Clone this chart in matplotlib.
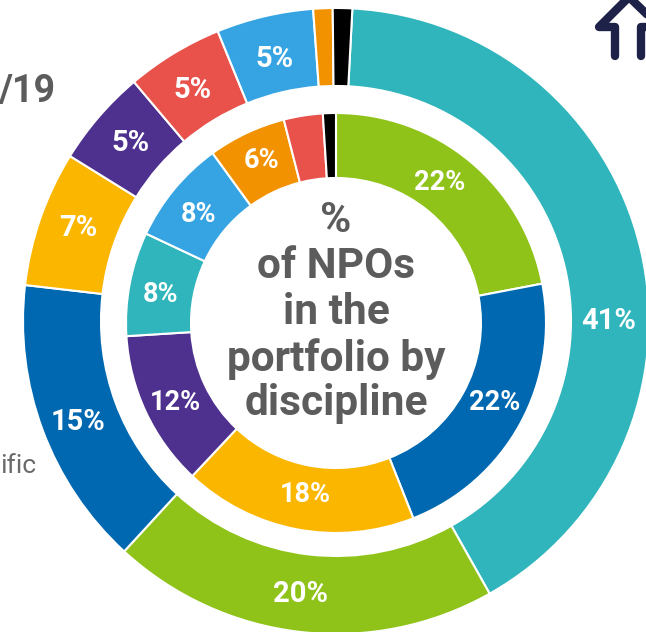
import matplotlib
matplotlib.use("Agg")
import matplotlib.pyplot as plt

outer_values = [41, 20, 15, 7, 5, 5, 5, 1, 1]
outer_colors = ["#2fb5bb", "#8fc31a", "#0068b0", "#fbb600", "#4e318e", "#e8524a", "#36a4e3", "#f39200", "#000000"]
outer_labels = ["41%", "20%", "15%", "7%", "5%", "5%", "5%"]
outer_pos = [(609, 321), (300, 594), (78, 422), (78, 228), (131, 143), (193, 90), (275, 59)]

inner_values = [22, 22, 18, 12, 8, 8, 6, 3, 1]
inner_colors = ["#8fc31a", "#0068b0", "#fbb600", "#4e318e", "#2fb5bb", "#36a4e3", "#f39200", "#e8524a", "#000000"]
inner_labels = ["22%", "22%", "18%", "12%", "8%", "8%", "6%"]
inner_pos = [(440, 182), (495, 402), (305, 495), (175, 403), (160, 294), (199, 214), (261, 160)]

center_lines = ["%", "of NPOs", "in the", "portfolio by", "discipline"]
center_ys = [220, 267, 313, 359, 404]

W, H = 646, 632
plt.rcParams["font.family"] = ["Roboto", "DejaVu Sans"]
fig = plt.figure(figsize=(W / 100, H / 100), dpi=100)
ax = fig.add_axes([0, 0, 1, 1])

def ring(values, colors, r_out, r_in, start, cx, cy):
    ax.pie(values, colors=colors, radius=r_out, center=(cx, H - cy), startangle=start,
           counterclock=False, frame=True,
           wedgeprops=dict(width=r_out - r_in, edgecolor="white", linewidth=1.5))

ring(outer_values, outer_colors, 313, 235, 87, 336, 321)
ring(inner_values, inner_colors, 210, 145, 90, 336, 323)
ax.set_xlim(0, W)
ax.set_ylim(0, H)
ax.set_aspect("auto")
ax.axis("off")

for s, (x, y) in zip(outer_labels, outer_pos):
    ax.text(x, H - y, s, color="white", fontweight="bold", fontsize=21, ha="center", va="center")
for s, (x, y) in zip(inner_labels, inner_pos):
    ax.text(x, H - y, s, color="white", fontweight="bold", fontsize=19.5, ha="center", va="center")

for s, y in zip(center_lines, center_ys):
    ax.text(336, H - y, s, color="#5c5c5c", fontweight="bold", fontsize=30.5, ha="center", va="center")

ax.text(55, H - 92, "/19", color="#5c5c5c", fontweight="bold", fontsize=27, ha="right", va="center")
ax.text(36, H - 466, "ific", color="#6a6a6a", fontsize=19, ha="right", va="center")

# logo fragment, top right
navy = "#1e2148"
ax.plot([615, 615, 599, 629, 660, 641, 641], [H - 56, H - 27, H - 27, H + 3, H - 27, H - 27, H - 56],
        color=navy, lw=6, solid_capstyle="round", solid_joinstyle="round")
fig.savefig("out.png", dpi=100)
